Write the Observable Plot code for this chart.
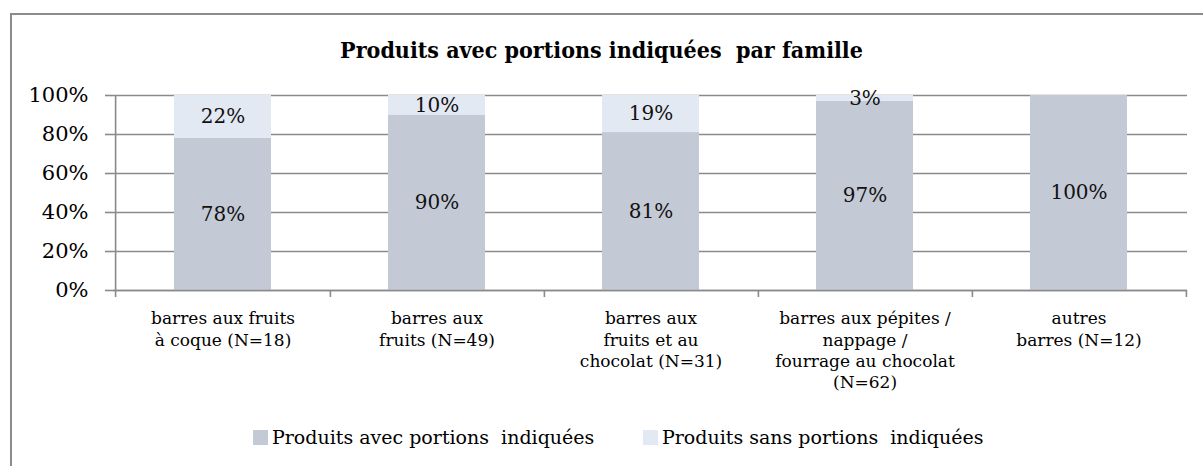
<!DOCTYPE html>
<html>
<head>
<meta charset="utf-8">
<script src="https://cdn.jsdelivr.net/npm/d3@7"></script>
<script src="https://cdn.jsdelivr.net/npm/@observablehq/plot@0.6"></script>
<style>
  html, body { margin: 0; padding: 0; background: #fff; }
  #wrap { position: relative; width: 1203px; height: 466px; overflow: hidden; font-family: "DejaVu Serif", serif; }
  #border { position: absolute; left: 10px; top: 13px; width: 1400px; height: 600px; border: 2px solid #8c8c8c; box-sizing: border-box; }
  #chart { position: absolute; left: 0; top: 0; }
  #title { position: absolute; left: 0; top: 36px; width: 1203px; text-align: center; font-family: "DejaVu Serif Condensed", "DejaVu Serif", serif; font-stretch: condensed; font-weight: bold; font-size: 23px; line-height: 28px; color: #000; white-space: pre; }
  .leg { position: absolute; font-size: 19px; line-height: 20px; color: #000; white-space: pre; }
  .sw { position: absolute; width: 15px; height: 15px; }
</style>
</head>
<body>
<div id="wrap">
  <div id="border"></div>
  <div id="chart"></div>
  <div id="title"></div>
  <div id="legend"></div>
</div>
<script>
const titleText = "Produits avec portions indiquées  par famille";
const categories = [
  "barres aux fruits à coque (N=18)",
  "barres aux fruits (N=49)",
  "barres aux fruits et au chocolat (N=31)",
  "barres aux pépites / nappage / fourrage au chocolat (N=62)",
  "autres barres (N=12)"
];
const tickLabels = [
  "barres aux fruits\nà coque (N=18)",
  "barres aux\nfruits (N=49)",
  "barres aux\nfruits et au\nchocolat (N=31)",
  "barres aux pépites /\nnappage /\nfourrage au chocolat\n(N=62)",
  "autres\nbarres (N=12)"
];
const series = ["Produits avec portions indiquées", "Produits sans portions indiquées"];
const avec = [78, 90, 81, 97, 100];
const sans = [22, 10, 19, 3, 0];
const yTicks = [0, 20, 40, 60, 80, 100];
const colors = ["#c3cad6", "#e3e9f3"];

const rows = categories.flatMap((c, i) => [
  {cat: c, series: series[0], value: avec[i]},
  {cat: c, series: series[1], value: sans[i]}
]);

const W = 1203, H = 466, ML = 113, MR = 16, MT = 95, MB = 176;
const step = (W - ML - MR) / categories.length;
const gray = "#8a8a8a";

const chart = Plot.plot({
  width: W, height: H,
  marginLeft: ML, marginRight: MR, marginTop: MT, marginBottom: MB,
  style: {fontFamily: "DejaVu Serif, serif", background: "transparent", color: "#000", overflow: "visible"},
  x: {domain: categories, paddingInner: 0.548, paddingOuter: 0.274, axis: null, label: null},
  y: {domain: [0, 100], axis: null, label: null},
  color: {domain: series, range: colors},
  marks: [
    Plot.gridY(yTicks, {stroke: gray, strokeOpacity: 1, strokeWidth: 1.6}),
    Plot.barY(rows, {x: "cat", y: "value", fill: "series"}),
    Plot.text(rows.filter(d => d.value > 0), Plot.stackY({
      x: "cat", y: "value", z: "series",
      text: d => d.value + "%", fontSize: 20, fill: "#111"
    })),
    Plot.ruleY([0], {stroke: gray, strokeWidth: 1.6}),
    Plot.ruleX([categories[0]], {x: d => d, dx: -step / 2, stroke: gray, strokeWidth: 1.6, insetBottom: -7}),
    Plot.ruleX(categories, {x: d => d, dx: step / 2, stroke: gray, strokeWidth: 1.6, insetTop: H - MT - MB, insetBottom: -7}),
    Plot.axisY(yTicks, {
      tickFormat: d => d + "%", tickSize: 8, tickPadding: 17, fontSize: 21,
      stroke: gray, strokeWidth: 1.6, fill: "#000", label: null
    }),
    Plot.axisX(categories, {
      tickFormat: d => tickLabels[categories.indexOf(d)],
      tickSize: 0, tickPadding: 19, fontSize: 17, lineHeight: 1.24, fill: "#000", label: null
    })
  ]
});
document.getElementById("chart").appendChild(chart);
document.getElementById("title").textContent = titleText;

const legend = document.getElementById("legend");
const legPos = [{sw: 253, tx: 272}, {sw: 643, tx: 662}];
series.forEach((s, i) => {
  const sq = document.createElement("div");
  sq.className = "sw";
  sq.style.left = legPos[i].sw + "px";
  sq.style.top = "430px";
  sq.style.background = colors[i];
  legend.appendChild(sq);
  const t = document.createElement("div");
  t.className = "leg";
  t.style.left = legPos[i].tx + "px";
  t.style.top = "427px";
  t.textContent = s.replace("portions indiquées", "portions  indiquées");
  legend.appendChild(t);
});
</script>
</body>
</html>
